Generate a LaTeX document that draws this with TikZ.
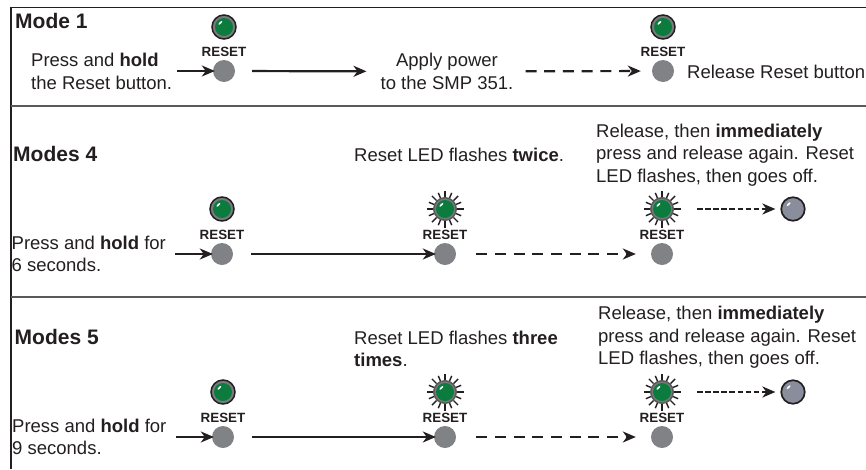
\documentclass[tikz,border=0pt]{standalone}
\usepackage{fontspec}
\setmainfont{Liberation Sans}
\usepackage{tikz}
\usetikzlibrary{arrows.meta}
\definecolor{inkdark}{HTML}{231F20}
\definecolor{ledgreen}{HTML}{0B7C3E}
\definecolor{btngray}{HTML}{808285}
\definecolor{offgray}{HTML}{8A8E9C}
\definecolor{rulegray}{HTML}{58595B}
\tikzset{
  plaintext/.style={inner sep=0pt,text=inkdark,align=left,anchor=west,font=\fontsize{18.5}{22.6}\selectfont},
  modetitle/.style={inner sep=0pt,text=inkdark,anchor=west,font=\fontsize{21}{25}\selectfont\bfseries},
  btn/.style={circle,fill=btngray,inner sep=0pt,minimum size=22pt},
  resetlabel/.style={inner sep=0pt,text=inkdark,yshift=19pt,font=\fontsize{13.4}{15}\selectfont\bfseries},
  ledring/.style={circle,draw=inkdark,line width=1.5pt,fill=rulegray!80,inner sep=0pt,minimum size=24pt},
  ledcore/.style={circle,fill=ledgreen,inner sep=0pt,minimum size=18pt},
  ledoff/.style={circle,draw=inkdark,line width=1.7pt,fill=offgray,inner sep=0pt,minimum size=23.5pt},
  solidflow/.style={-{Stealth[length=13pt,width=11pt,inset=4pt]},line width=2.2pt,draw=inkdark},
  longdash/.style={solidflow,dash pattern=on 11pt off 7.7pt},
  shortdash/.style={solidflow,dash pattern=on 5.5pt off 2.6pt},
}
\begin{document}
\begin{tikzpicture}[x=1pt,y=-1pt]
\useasboundingbox (0,0) rectangle (866,469);

% frame
\draw[inkdark,line width=1.6pt] (866,7.5)--(11,7.5)--(11,469);
\draw[rulegray,line width=2.6pt] (11,106)--(866,106);
\draw[rulegray,line width=2.6pt] (11,297)--(866,297);

% buttons with their label
\foreach \Name/\X/\Y in {btnA/224/71, btnB/663/71, btnC/222/254, btnD/445/254, btnE/662/254, btnF/223/437, btnG/445/437, btnH/662/437}{
    \node[btn] (\Name) at (\X,\Y) {};
    \node[resetlabel] (\Name text) at (\X,\Y) {RESET};
}

% steady leds
\foreach \Name/\X/\Y in {ledA/224/27, ledB/663/27, ledC/222/209, ledF/223/392}{
    \node[ledring] (\Name) at (\X,\Y) {};
    \node[ledcore] (\Name core) at (\X,\Y) {};
    \fill[white] (\X,\Y) ++(-3.6,-4.2) ellipse[x radius=2.6,y radius=0.9,rotate=45];
}

% flashing leds
\foreach \Name/\X/\Y in {ledD/445/209, ledE/662/209, ledG/445/392, ledH/662/392}{
    \foreach \Angle in {0,45,...,315}{
        \draw[inkdark,line width=1.4pt] (\X,\Y) ++(\Angle:12) -- ++(\Angle:6.5);
        \draw[inkdark,line width=1.4pt] (\X,\Y) ++(\Angle+22.5:12) -- ++(\Angle+22.5:5.5);
    }
    \node[ledring,minimum size=22.5pt,draw=rulegray] (\Name) at (\X,\Y) {};
    \node[ledcore] (\Name core) at (\X,\Y) {};
    \fill[white] (\X,\Y) ++(-3.6,-4.2) ellipse[x radius=2.6,y radius=0.9,rotate=45];
}

% leds gone off
\foreach \Name/\X/\Y in {ledI/793/209, ledJ/793/392}{
    \node[ledoff] (\Name) at (\X,\Y) {};
    \fill[white] (\X,\Y) ++(-4.4,-4.8) ellipse[x radius=2.6,y radius=0.9,rotate=45];
}

% texts
\node[modetitle] (titleA) at (15,21) {Mode 1};
\node[modetitle] (titleB) at (13,154) {Modes 4};
\node[modetitle] (titleC) at (14.5,337) {Modes 5};

\node[plaintext] (pressA) at (31,71.5) {Press and \textbf{hold}\\the Reset button.};
\node[plaintext,align=center,anchor=center] (power) at (447,71.5) {Apply power\\to the SMP 351.};
\node[plaintext] (releaseA) at (687,71.5) {Release Reset button};

\node[plaintext] (pressB) at (11.5,254) {Press and \textbf{hold} for\\6 seconds.};
\node[plaintext] (flashB) at (354,155) {Reset LED flashes \textbf{twice}.};
\node[plaintext] (releaseB) at (596,155) {Release, then \textbf{immediately}\\press and release again. Reset\\LED flashes, then goes off.};

\node[plaintext] (pressC) at (12,437) {Press and \textbf{hold} for\\9 seconds.};
\node[plaintext] (flashC) at (354,349) {Reset LED flashes \textbf{three}\\\textbf{times}.};
\node[plaintext] (releaseC) at (598,337.5) {Release, then \textbf{immediately}\\press and release again. Reset\\LED flashes, then goes off.};

% free ends
\coordinate (startA) at (177,71);
\coordinate (startC) at (175,254);
\coordinate (startF) at (176,437);
\coordinate (longC) at (251,254);
\coordinate (longF) at (252,437);

% row of mode 1
\draw[solidflow,shorten >=-2pt] (startA) -- (btnA);
\draw[solidflow,shorten <=17pt,shorten >=14pt] (btnA) -- (power);
\draw[longdash,shorten <=12pt,shorten >=11pt] (power) -- (btnB);

% row of modes 4
\draw[solidflow,shorten >=-2pt] (startC) -- (btnC);
\draw[solidflow,shorten >=-2pt] (longC) -- (btnD);
\draw[longdash,shorten <=20pt,shorten >=15pt] (btnD) -- (btnE);
\draw[shortdash,shorten <=23pt,shorten >=5pt] (ledE) -- (ledI);

% row of modes 5
\draw[solidflow,shorten >=-2pt] (startF) -- (btnF);
\draw[solidflow,shorten >=-2pt] (longF) -- (btnG);
\draw[longdash,shorten <=20pt,shorten >=15pt] (btnG) -- (btnH);
\draw[shortdash,shorten <=23pt,shorten >=5pt] (ledH) -- (ledJ);

\end{tikzpicture}
\end{document}
